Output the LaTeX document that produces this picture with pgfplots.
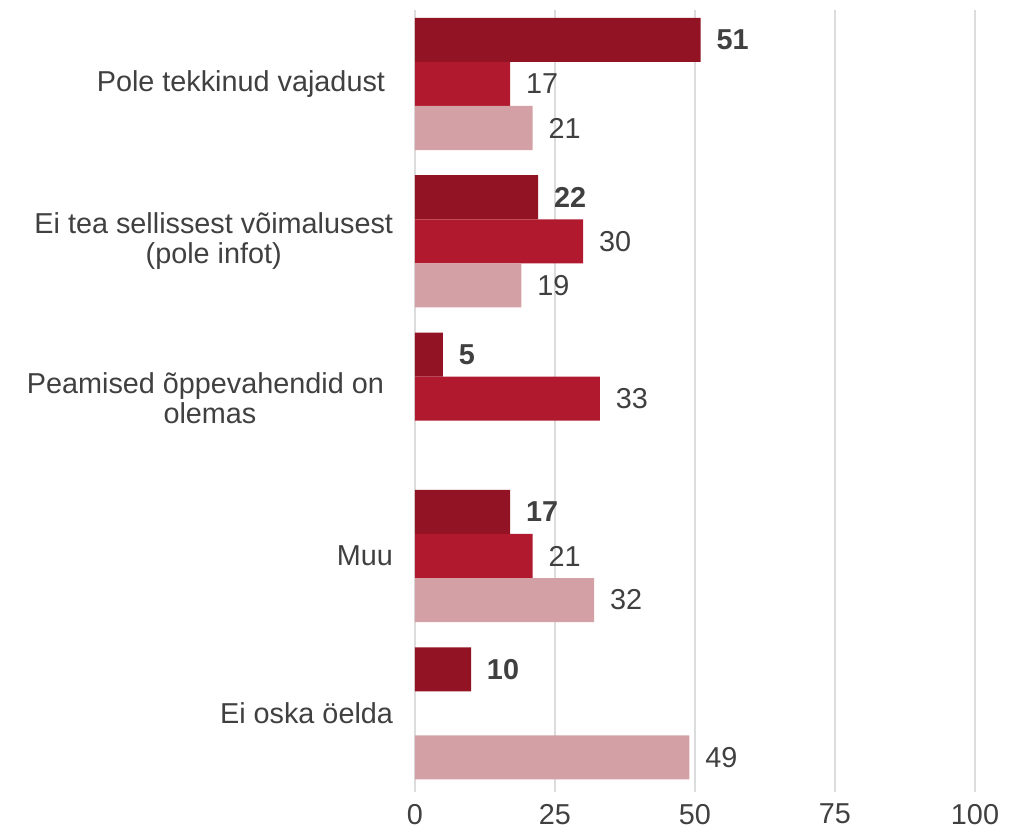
\documentclass[border=0pt]{standalone}
\usepackage{fontspec}
\setmainfont{Liberation Sans}
\usepackage{pgfplots}
\pgfplotsset{compat=1.18}
\definecolor{cA}{HTML}{921323}
\definecolor{cB}{HTML}{B0192E}
\definecolor{cC}{HTML}{D3A1A5}
\definecolor{txt}{HTML}{404040}
\definecolor{grd}{HTML}{DCDCDC}
\begin{document}
\fontsize{14.4}{15}\selectfont
\begin{tikzpicture}
\path[use as bounding box] (0pt,0pt) rectangle (511.5pt,415pt);
\begin{axis}[
  at={(207.5pt,19pt)}, anchor=south west,
  width=280pt, height=391pt, scale only axis,
  xbar,
  xmin=0, xmax=100, ymin=-0.47, ymax=4.50, y dir=reverse,
  axis line style={draw=none},
  xtick={0,25,50,75,100},
  xmajorgrids, major grid style={grd, line width=1pt},
  ytick={0,1,2,3,4},
  yticklabels={Pole tekkinud vajadust\hspace*{4pt},
    {Ei tea sellissest võimalusest\\(pole infot)},
    {Peamised õppevahendid on\hspace*{4.5pt}\\olemas},
    Muu, Ei oska öelda},
  yticklabel style={align=center, text=txt, font=\fontsize{14.4}{15}\selectfont, xshift=-6pt},
  xticklabel style={text=txt, font=\fontsize{14.4}{15}\selectfont, yshift=-1pt},
  major tick length=0,
  /pgf/number format/assume math mode=true,
  bar width=0.28,
  nodes near coords,
  every node near coord/.append style={text=txt, font=\fontsize{14.4}{15}\selectfont, xshift=3pt},
]
\addplot[fill=cA, draw=none, bar shift=-0.28,
  every node near coord/.append style={font=\fontsize{14.4}{15}\selectfont\bfseries}]
  coordinates {(51,0) (22,1) (5,2) (17,3) (10,4)};
\addplot[fill=cB, draw=none, bar shift=0]
  coordinates {(17,0) (30,1) (33,2) (21,3)};
\addplot[fill=cC, draw=none, bar shift=0.28]
  coordinates {(21,0) (19,1) (32,3) (49,4)};
\end{axis}
\end{tikzpicture}
\end{document}
